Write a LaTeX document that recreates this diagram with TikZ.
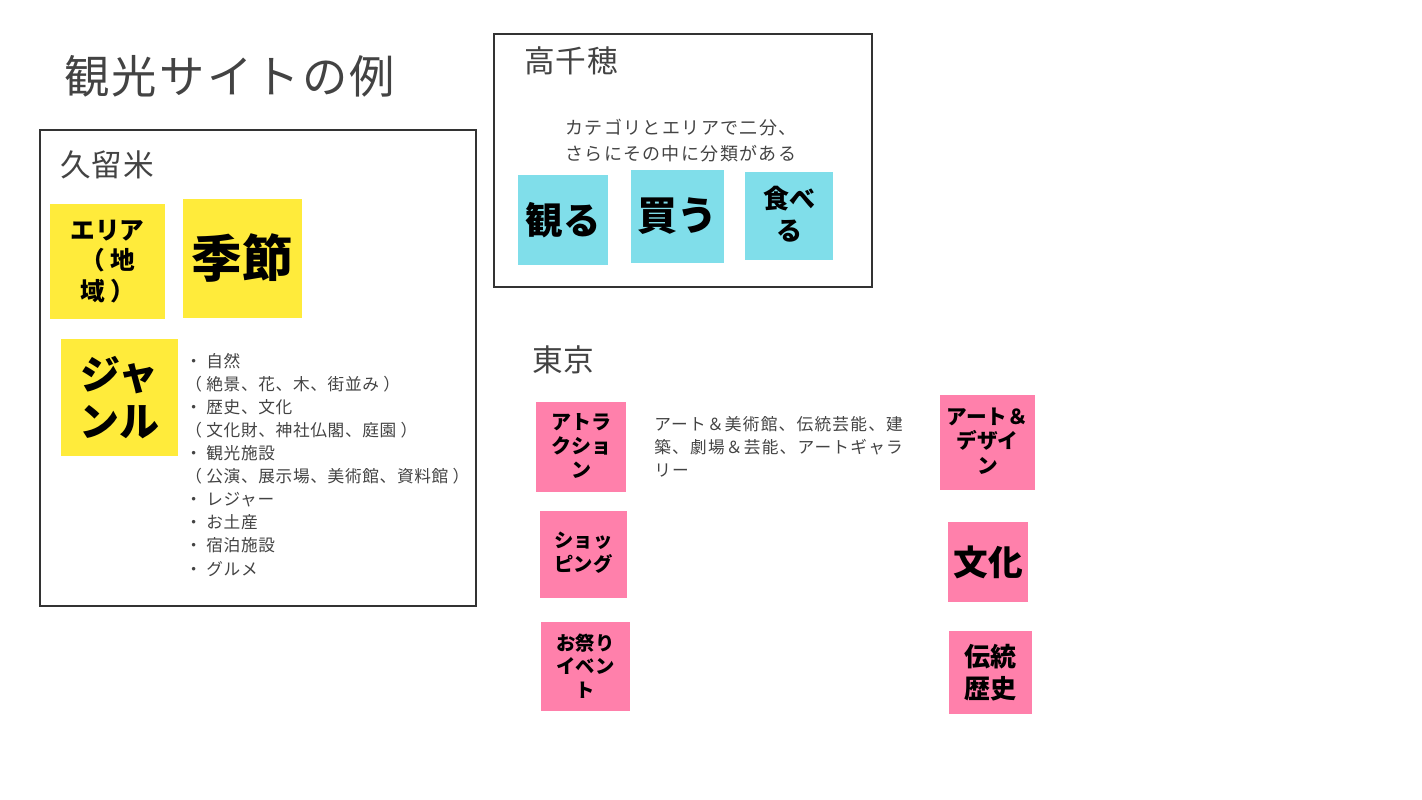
\documentclass[tikz,border=0pt]{standalone}
\usepackage{fontspec}
\setmainfont{Noto Sans CJK JP}
\newfontfamily\jpsA{Noto Sans CJK JP}[LetterSpace=5]
\newfontfamily\jpsB{Noto Sans CJK JP}[LetterSpace=4]
\newfontfamily\jpsC{Noto Sans CJK JP}[LetterSpace=7.5]
\newfontfamily\jpsD{Noto Sans CJK JP}[LetterSpace=3]
\definecolor{txt}{HTML}{434343}
\definecolor{boxline}{HTML}{333333}
\definecolor{yel}{HTML}{FFEB3B}
\definecolor{cya}{HTML}{80DEEA}
\definecolor{pnk}{HTML}{FF80AB}
\tikzset{
  frame/.style={draw=boxline, line width=1.5pt},
  sticky/.style={inner sep=0pt, align=center, font=\bfseries, text=black},
  heading/.style={anchor=west, inner sep=0pt, text=txt},
  body/.style={anchor=north west, inner sep=0pt, text=txt, align=left},
}
\begin{document}
\begin{tikzpicture}[x=0.75pt,y=-0.75pt]
\useasboundingbox (0,0) rectangle (1422,800);
% title
\node[heading, font=\jpsA\fontsize{34}{40}\selectfont] (title) at (64,76) {観光サイトの例};
% Kurume
\draw[frame] (40,130) rectangle (476,606);
\node[heading, font=\jpsD\fontsize{23}{28}\selectfont] (kurume) at (60,165) {久留米};
\fill[yel] (50,204) rectangle (165,319);
\node[sticky, font=\bfseries\fontsize{18.5}{23}\selectfont] (area) at (107.5,261.5) {エリア\\（ 地\\域 ）};
\fill[yel] (183,199) rectangle (302,318);
\node[sticky, font=\bfseries\fontsize{38}{44}\selectfont] (kisetsu) at (242.5,258.5) {季節};
\fill[yel] (61,339) rectangle (178,456);
\node[sticky, font=\bfseries\fontsize{30}{35}\selectfont] (genre) at (119.5,397.5) {ジャ\\ンル};
\node[body, font=\jpsB\fontsize{12.5}{17.3}\selectfont] (list) at (185,353) {・ 自然\\（ 絶景、花、木、街並み ）\\・ 歴史、文化\\（ 文化財、神社仏閣、庭園 ）\\・ 観光施設\\（ 公演、展示場、美術館、資料館 ）\\・ レジャー\\・ お土産\\・ 宿泊施設\\・ グルメ};
% Takachiho
\draw[frame] (494,34) rectangle (872,287);
\node[heading, font=\jpsD\fontsize{23}{28}\selectfont] (taka) at (524,61) {高千穂};
\node[inner sep=0pt, text=txt, align=left, font=\jpsC\fontsize{13.5}{19.5}\selectfont] (takadesc) at (681,141) {カテゴリとエリアで二分、\\さらにその中に分類がある};
\fill[cya] (518,175) rectangle (608,265);
\node[sticky, font=\bfseries\fontsize{28}{33}\selectfont] (miru) at (563,220) {観る};
\fill[cya] (631,170) rectangle (724,263);
\node[sticky, font=\bfseries\fontsize{30}{35}\selectfont] (kau) at (677.5,216.5) {買う};
\fill[cya] (745,172) rectangle (833,260);
\node[sticky, font=\bfseries\fontsize{19.5}{24}\selectfont] (taberu) at (789,214) {食べ\\る};
% Tokyo
\node[heading, font=\jpsD\fontsize{23}{28}\selectfont] (tokyo) at (532,360) {東京};
\fill[pnk] (536,402) rectangle (626,492);
\node[sticky, font=\bfseries\fontsize{15}{18}\selectfont] (attr) at (581,446) {アトラ\\クショ\\ン};
\fill[pnk] (540,511) rectangle (627,598);
\node[sticky, font=\bfseries\fontsize{14.5}{18}\selectfont] (shop) at (583.5,553) {ショッ\\ピング};
\fill[pnk] (541,622) rectangle (630,711);
\node[sticky, font=\bfseries\fontsize{14.5}{17.5}\selectfont] (fest) at (585.5,666) {お祭り\\イベン\\ト};
\node[body, font=\jpsC\fontsize{12.5}{17.3}\selectfont] (tokyodesc) at (654,416) {アート＆美術館、伝統芸能、建\\築、劇場＆芸能、アートギャラ\\リー};
\fill[pnk] (940,395) rectangle (1035,490);
\node[sticky, font=\bfseries\fontsize{15.5}{18.5}\selectfont] (art) at (987.5,441) {アート＆\\デザイ\\ン};
\fill[pnk] (948,522) rectangle (1028,602);
\node[sticky, font=\bfseries\fontsize{26}{30}\selectfont] (bunka) at (988,562) {文化};
\fill[pnk] (949,631) rectangle (1032,714);
\node[sticky, font=\bfseries\fontsize{19.5}{24}\selectfont] (dento) at (990.5,672.5) {伝統\\歴史};
\end{tikzpicture}
\end{document}
